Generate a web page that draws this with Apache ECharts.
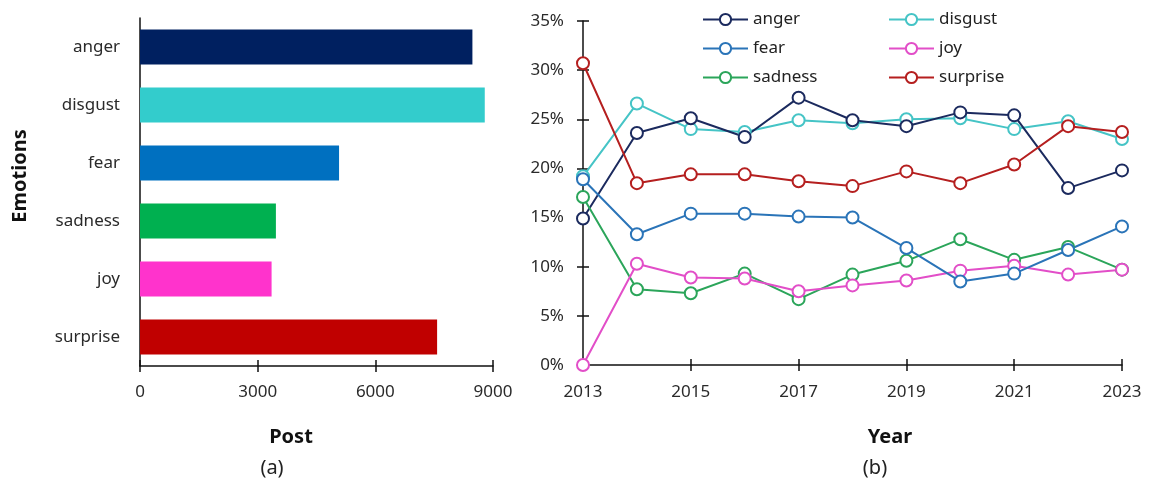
<!DOCTYPE html>
<html>
<head>
<meta charset="utf-8">
<script src="https://cdn.jsdelivr.net/npm/echarts@6/dist/echarts.min.js"></script>
<style>
  html, body { margin: 0; padding: 0; background: #fff; }
  #main { width: 1160px; height: 486px; }
</style>
</head>
<body>
<div id="main"></div>
<script>
// (a) posts per emotion
const emotions = ['anger', 'disgust', 'fear', 'sadness', 'joy', 'surprise'];
const posts = [8475, 8790, 5075, 3465, 3355, 7575];
const barColors = ['#002060', '#33CCCC', '#0070C0', '#00B050', '#FF33CC', '#C00000'];

// (b) share per year, in %
const years = ['2013', '2014', '2015', '2016', '2017', '2018', '2019', '2020', '2021', '2022', '2023'];
const anger = [14.9, 23.6, 25.1, 23.2, 27.2, 24.9, 24.3, 25.7, 25.4, 18.0, 19.8];
const disgust = [19.2, 26.6, 24.0, 23.7, 24.9, 24.6, 25.0, 25.1, 24.0, 24.8, 23.0];
const fear = [18.9, 13.3, 15.4, 15.4, 15.1, 15.0, 11.9, 8.5, 9.3, 11.7, 14.1];
const joy = [0, 10.3, 8.9, 8.8, 7.5, 8.1, 8.6, 9.6, 10.1, 9.2, 9.7];
const sadness = [17.1, 7.7, 7.3, 9.3, 6.7, 9.2, 10.6, 12.8, 10.7, 12.0, 9.7];
const surprise = [30.7, 18.5, 19.4, 19.4, 18.7, 18.2, 19.7, 18.5, 20.4, 24.3, 23.7];
const lineColors = {
  anger: '#1B2A5E', disgust: '#45C4C6', fear: '#2A74B8',
  joy: '#E24EC8', sadness: '#2BA55A', surprise: '#B51F1F'
};

const font = 'Noto Sans';
const labelStyle = { fontFamily: font, fontSize: 17, color: '#2a2a2a' };
const axisLine = { show: true, lineStyle: { color: '#111', width: 1.5 } };

function lineSeries(name, data) {
  return {
    name: name,
    type: 'line',
    xAxisIndex: 2,
    yAxisIndex: 2,
    data: data,
    symbol: 'emptyCircle',
    symbolSize: 12,
    itemStyle: { color: lineColors[name], borderWidth: 2 },
    lineStyle: { color: lineColors[name], width: 2 },
    emphasis: { disabled: true }
  };
}

const myChart = echarts.init(document.getElementById('main'));
myChart.setOption({
  animation: false,
  grid: [
    { left: 140, top: 18, width: 353, height: 348 },
    { left: 583, top: 21, width: 539, height: 344 }
  ],
  xAxis: [
    {
      gridIndex: 0, type: 'value', min: 0, max: 9000, interval: 3000,
      axisLine: axisLine, splitLine: { show: false },
      axisTick: { show: true, length: 6, lineStyle: { color: '#111', width: 1.5 } },
      axisLabel: Object.assign({ margin: 18, formatter: function (v) { return String(v); } }, labelStyle)
    },
    {
      gridIndex: 0, type: 'value', position: 'bottom', min: 0, max: 9000, interval: 3000,
      axisLine: { show: false }, splitLine: { show: false }, axisLabel: { show: false },
      axisTick: { show: true, inside: true, length: 6, lineStyle: { color: '#111', width: 1.5 } }
    },
    {
      gridIndex: 1, type: 'category', data: years, boundaryGap: false,
      axisLine: axisLine,
      axisTick: { show: true, interval: 1, length: 6, lineStyle: { color: '#111', width: 1.5 } },
      axisLabel: Object.assign({ interval: 1, margin: 19 }, labelStyle)
    },
    {
      gridIndex: 1, type: 'category', data: years, boundaryGap: false, position: 'bottom',
      axisLine: { show: false }, axisLabel: { show: false },
      axisTick: { show: true, inside: true, interval: 1, length: 6, lineStyle: { color: '#111', width: 1.5 } }
    }
  ],
  yAxis: [
    {
      gridIndex: 0, type: 'category', data: emotions, inverse: true,
      axisLine: axisLine, axisTick: { show: false },
      axisLabel: Object.assign({ margin: 20 }, labelStyle)
    },
    {
      gridIndex: 1, type: 'value', min: 0, max: 35, interval: 5,
      axisLine: axisLine, splitLine: { show: false },
      axisTick: { show: true, length: 6, lineStyle: { color: '#111', width: 1.5 } },
      axisLabel: Object.assign({ margin: 19, formatter: '{value}%' }, labelStyle)
    },
    {
      gridIndex: 1, type: 'value', position: 'left', min: 0, max: 35, interval: 5,
      axisLine: { show: false }, splitLine: { show: false }, axisLabel: { show: false },
      axisTick: { show: true, inside: true, length: 6, lineStyle: { color: '#111', width: 1.5 } }
    }
  ],
  legend: [
    {
      orient: 'vertical', left: 697, top: 6, itemWidth: 45, itemHeight: 14, itemGap: 12,
      data: ['anger', 'fear', 'sadness'],
      textStyle: { fontFamily: font, fontSize: 17, color: '#222' }
    },
    {
      orient: 'vertical', left: 883, top: 6, itemWidth: 45, itemHeight: 14, itemGap: 12,
      data: ['disgust', 'joy', 'surprise'],
      textStyle: { fontFamily: font, fontSize: 17, color: '#222' }
    }
  ],
  series: [
    {
      type: 'bar',
      xAxisIndex: 0,
      yAxisIndex: 0,
      barWidth: '60%',
      data: posts.map(function (v, i) {
        return { value: v, itemStyle: { color: barColors[i] } };
      })
    },
    lineSeries('disgust', disgust),
    lineSeries('anger', anger),
    lineSeries('sadness', sadness),
    lineSeries('joy', joy),
    lineSeries('fear', fear),
    lineSeries('surprise', surprise)
  ],
  graphic: [
    { type: 'text', x: 291, y: 437, style: { text: 'Post', textAlign: 'center', textVerticalAlign: 'middle', font: 'bold 20px "Noto Sans"', fill: '#111' } },
    { type: 'text', x: 272, y: 468, style: { text: '(a)', textAlign: 'center', textVerticalAlign: 'middle', font: '20px "Noto Sans"', fill: '#222' } },
    { type: 'text', x: 20, y: 176, rotation: Math.PI / 2, style: { text: 'Emotions', textAlign: 'center', textVerticalAlign: 'middle', font: 'bold 20px "Noto Sans"', fill: '#111' } },
    { type: 'text', x: 890, y: 437, style: { text: 'Year', textAlign: 'center', textVerticalAlign: 'middle', font: 'bold 20px "Noto Sans"', fill: '#111' } },
    { type: 'text', x: 875, y: 468, style: { text: '(b)', textAlign: 'center', textVerticalAlign: 'middle', font: '20px "Noto Sans"', fill: '#222' } }
  ]
});
</script>
</body>
</html>
